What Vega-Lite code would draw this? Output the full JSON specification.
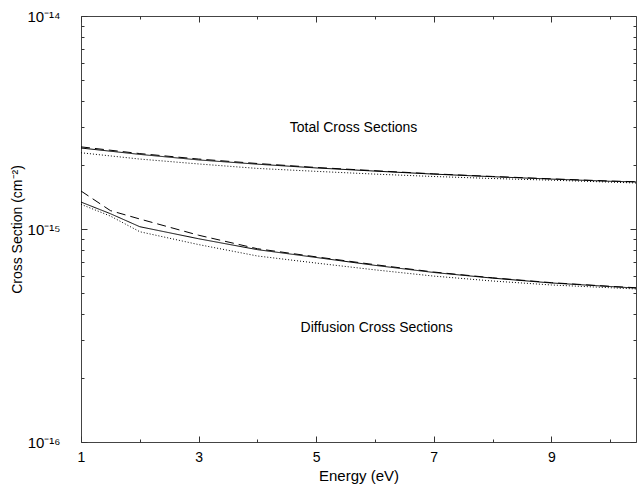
{
  "$schema": "https://vega.github.io/schema/vega-lite/v6.json",
  "width": 555,
  "height": 426,
  "autosize": {"type": "none"},
  "padding": {"left": 81, "top": 16, "right": 1, "bottom": 44},
  "background": "white",
  "config": {
    "font": "Liberation Sans",
    "view": {"stroke": "#444", "strokeWidth": 1},
    "axis": {"grid": false, "domain": false, "ticks": true, "tickColor": "#333", "tickWidth": 1, "labelColor": "#000", "titleColor": "#000", "titleFontWeight": "normal", "labelFont": "Liberation Sans", "titleFont": "Liberation Sans"}
  },
  "datasets": {
    "curves": [
      {"E": 1, "sigma": 2.40e-15, "kind": "Total", "model": "A"},
      {"E": 2, "sigma": 2.24e-15, "kind": "Total", "model": "A"},
      {"E": 3, "sigma": 2.11e-15, "kind": "Total", "model": "A"},
      {"E": 4, "sigma": 2.015e-15, "kind": "Total", "model": "A"},
      {"E": 5, "sigma": 1.935e-15, "kind": "Total", "model": "A"},
      {"E": 6, "sigma": 1.87e-15, "kind": "Total", "model": "A"},
      {"E": 7, "sigma": 1.81e-15, "kind": "Total", "model": "A"},
      {"E": 8, "sigma": 1.76e-15, "kind": "Total", "model": "A"},
      {"E": 9, "sigma": 1.715e-15, "kind": "Total", "model": "A"},
      {"E": 10, "sigma": 1.675e-15, "kind": "Total", "model": "A"},
      {"E": 10.44, "sigma": 1.663e-15, "kind": "Total", "model": "A"},
      {"E": 1, "sigma": 2.43e-15, "kind": "Total", "model": "B"},
      {"E": 2, "sigma": 2.26e-15, "kind": "Total", "model": "B"},
      {"E": 3, "sigma": 2.13e-15, "kind": "Total", "model": "B"},
      {"E": 4, "sigma": 2.03e-15, "kind": "Total", "model": "B"},
      {"E": 5, "sigma": 1.945e-15, "kind": "Total", "model": "B"},
      {"E": 6, "sigma": 1.878e-15, "kind": "Total", "model": "B"},
      {"E": 7, "sigma": 1.815e-15, "kind": "Total", "model": "B"},
      {"E": 8, "sigma": 1.765e-15, "kind": "Total", "model": "B"},
      {"E": 9, "sigma": 1.72e-15, "kind": "Total", "model": "B"},
      {"E": 10, "sigma": 1.68e-15, "kind": "Total", "model": "B"},
      {"E": 10.44, "sigma": 1.667e-15, "kind": "Total", "model": "B"},
      {"E": 1, "sigma": 2.28e-15, "kind": "Total", "model": "C"},
      {"E": 2, "sigma": 2.13e-15, "kind": "Total", "model": "C"},
      {"E": 3, "sigma": 2.02e-15, "kind": "Total", "model": "C"},
      {"E": 4, "sigma": 1.925e-15, "kind": "Total", "model": "C"},
      {"E": 5, "sigma": 1.865e-15, "kind": "Total", "model": "C"},
      {"E": 6, "sigma": 1.81e-15, "kind": "Total", "model": "C"},
      {"E": 7, "sigma": 1.764e-15, "kind": "Total", "model": "C"},
      {"E": 8, "sigma": 1.726e-15, "kind": "Total", "model": "C"},
      {"E": 9, "sigma": 1.695e-15, "kind": "Total", "model": "C"},
      {"E": 10, "sigma": 1.66e-15, "kind": "Total", "model": "C"},
      {"E": 10.44, "sigma": 1.645e-15, "kind": "Total", "model": "C"},
      {"E": 1, "sigma": 1.338e-15, "kind": "Diffusion", "model": "A"},
      {"E": 1.5, "sigma": 1.18e-15, "kind": "Diffusion", "model": "A"},
      {"E": 2, "sigma": 1.025e-15, "kind": "Diffusion", "model": "A"},
      {"E": 3, "sigma": 0.90e-15, "kind": "Diffusion", "model": "A"},
      {"E": 4, "sigma": 0.80e-15, "kind": "Diffusion", "model": "A"},
      {"E": 5, "sigma": 0.735e-15, "kind": "Diffusion", "model": "A"},
      {"E": 6, "sigma": 0.675e-15, "kind": "Diffusion", "model": "A"},
      {"E": 7, "sigma": 0.625e-15, "kind": "Diffusion", "model": "A"},
      {"E": 8, "sigma": 0.588e-15, "kind": "Diffusion", "model": "A"},
      {"E": 9, "sigma": 0.558e-15, "kind": "Diffusion", "model": "A"},
      {"E": 10, "sigma": 0.537e-15, "kind": "Diffusion", "model": "A"},
      {"E": 10.44, "sigma": 0.528e-15, "kind": "Diffusion", "model": "A"},
      {"E": 1, "sigma": 1.508e-15, "kind": "Diffusion", "model": "B"},
      {"E": 1.5, "sigma": 1.22e-15, "kind": "Diffusion", "model": "B"},
      {"E": 2, "sigma": 1.114e-15, "kind": "Diffusion", "model": "B"},
      {"E": 3, "sigma": 0.935e-15, "kind": "Diffusion", "model": "B"},
      {"E": 4, "sigma": 0.808e-15, "kind": "Diffusion", "model": "B"},
      {"E": 5, "sigma": 0.74e-15, "kind": "Diffusion", "model": "B"},
      {"E": 6, "sigma": 0.68e-15, "kind": "Diffusion", "model": "B"},
      {"E": 7, "sigma": 0.628e-15, "kind": "Diffusion", "model": "B"},
      {"E": 8, "sigma": 0.59e-15, "kind": "Diffusion", "model": "B"},
      {"E": 9, "sigma": 0.56e-15, "kind": "Diffusion", "model": "B"},
      {"E": 10, "sigma": 0.538e-15, "kind": "Diffusion", "model": "B"},
      {"E": 10.44, "sigma": 0.53e-15, "kind": "Diffusion", "model": "B"},
      {"E": 1, "sigma": 1.306e-15, "kind": "Diffusion", "model": "C"},
      {"E": 1.5, "sigma": 1.15e-15, "kind": "Diffusion", "model": "C"},
      {"E": 2, "sigma": 0.971e-15, "kind": "Diffusion", "model": "C"},
      {"E": 3, "sigma": 0.845e-15, "kind": "Diffusion", "model": "C"},
      {"E": 4, "sigma": 0.747e-15, "kind": "Diffusion", "model": "C"},
      {"E": 5, "sigma": 0.692e-15, "kind": "Diffusion", "model": "C"},
      {"E": 6, "sigma": 0.643e-15, "kind": "Diffusion", "model": "C"},
      {"E": 7, "sigma": 0.601e-15, "kind": "Diffusion", "model": "C"},
      {"E": 8, "sigma": 0.570e-15, "kind": "Diffusion", "model": "C"},
      {"E": 9, "sigma": 0.546e-15, "kind": "Diffusion", "model": "C"},
      {"E": 10, "sigma": 0.530e-15, "kind": "Diffusion", "model": "C"},
      {"E": 10.44, "sigma": 0.523e-15, "kind": "Diffusion", "model": "C"}
    ],
    "labels": [
      {"E": 5.635, "sigma": 2.98e-15, "kind": "Total", "label": "Total Cross Sections"},
      {"E": 6.03, "sigma": 3.43e-16, "kind": "Diffusion", "label": "Diffusion Cross Sections"}
    ]
  },
  "layer": [
    {
      "data": {"name": "curves"},
      "transform": [{"filter": "datum.kind == 'Total'"}],
      "mark": {"type": "line", "color": "#000", "strokeWidth": 1, "clip": true},
      "encoding": {
        "x": {
          "field": "E", "type": "quantitative",
          "scale": {"domain": [1, 10.44], "nice": false, "zero": false},
          "axis": {
            "orient": "bottom", "offset": -6, "tickSize": 6,
            "title": "Energy (eV)", "titleFontSize": 15, "titlePadding": 4,
            "values": [1, 3, 5, 7, 9],
            "labelFontSize": 14, "labelPadding": 8, "labelFlush": false
          }
        },
        "y": {
          "field": "sigma", "type": "quantitative",
          "scale": {"type": "log", "domain": [1e-16, 1e-14], "nice": false},
          "axis": {
            "orient": "left", "offset": -6, "tickSize": 6,
            "title": "Cross Section (cm⁻²)", "titleFontSize": 14, "titlePadding": 2,
            "values": [1e-16, 1e-15, 1e-14],
            "labelExpr": "datum.value > 5e-15 ? '10⁻¹⁴' : datum.value > 5e-16 ? '10⁻¹⁵' : '10⁻¹⁶'",
            "labelFontSize": 15, "labelPadding": 21, "labelFlush": false
          }
        },
        "strokeDash": {
          "field": "model", "type": "nominal",
          "scale": {"domain": ["A", "B", "C"], "range": [[1, 0], [9, 5], [1, 2]]},
          "legend": null
        }
      }
    },
    {
      "data": {"name": "labels"},
      "transform": [{"filter": "datum.kind == 'Total'"}],
      "mark": {"type": "text", "fontSize": 14, "color": "#000", "font": "Liberation Sans"},
      "encoding": {
        "x": {
          "field": "E", "type": "quantitative",
          "scale": {"domain": [1, 10.44], "nice": false, "zero": false},
          "axis": {"orient": "top", "offset": -6, "tickSize": 6, "title": null, "labels": false, "values": [1, 3, 5, 7, 9]}
        },
        "y": {
          "field": "sigma", "type": "quantitative",
          "scale": {"type": "log", "domain": [1e-16, 1e-14], "nice": false},
          "axis": {"orient": "right", "offset": -6, "tickSize": 6, "title": null, "labels": false, "values": [1e-16, 1e-15, 1e-14]}
        },
        "text": {"field": "label"}
      }
    },
    {
      "data": {"name": "curves"},
      "transform": [{"filter": "datum.kind == 'Diffusion'"}],
      "mark": {"type": "line", "color": "#000", "strokeWidth": 1, "clip": true},
      "encoding": {
        "x": {
          "field": "E", "type": "quantitative",
          "scale": {"domain": [1, 10.44], "nice": false, "zero": false},
          "axis": {"orient": "bottom", "offset": -3, "tickSize": 3, "title": null, "labels": false, "values": [2, 4, 6, 8, 10]}
        },
        "y": {
          "field": "sigma", "type": "quantitative",
          "scale": {"type": "log", "domain": [1e-16, 1e-14], "nice": false},
          "axis": {"orient": "left", "offset": -3, "tickSize": 3, "title": null, "labels": false, "values": [2e-16, 3e-16, 4e-16, 5e-16, 6e-16, 7e-16, 8e-16, 9e-16, 2e-15, 3e-15, 4e-15, 5e-15, 6e-15, 7e-15, 8e-15, 9e-15]}
        },
        "strokeDash": {
          "field": "model", "type": "nominal",
          "scale": {"domain": ["A", "B", "C"], "range": [[1, 0], [9, 5], [1, 2]]},
          "legend": null
        }
      }
    },
    {
      "data": {"name": "labels"},
      "transform": [{"filter": "datum.kind == 'Diffusion'"}],
      "mark": {"type": "text", "fontSize": 14, "color": "#000", "font": "Liberation Sans"},
      "encoding": {
        "x": {
          "field": "E", "type": "quantitative",
          "scale": {"domain": [1, 10.44], "nice": false, "zero": false},
          "axis": {"orient": "top", "offset": -3, "tickSize": 3, "title": null, "labels": false, "values": [2, 4, 6, 8, 10]}
        },
        "y": {
          "field": "sigma", "type": "quantitative",
          "scale": {"type": "log", "domain": [1e-16, 1e-14], "nice": false},
          "axis": {"orient": "right", "offset": -3, "tickSize": 3, "title": null, "labels": false, "values": [2e-16, 3e-16, 4e-16, 5e-16, 6e-16, 7e-16, 8e-16, 9e-16, 2e-15, 3e-15, 4e-15, 5e-15, 6e-15, 7e-15, 8e-15, 9e-15]}
        },
        "text": {"field": "label"}
      }
    }
  ],
  "resolve": {"scale": {"x": "independent", "y": "independent", "strokeDash": "shared"}}
}
